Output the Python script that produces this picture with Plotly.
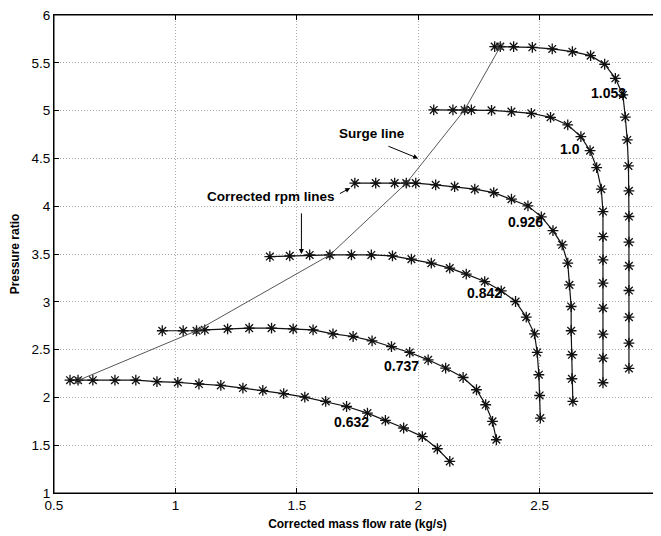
import plotly.graph_objects as go

# rpm line data (corrected mass flow rate kg/s, pressure ratio)
x_0632 = [0.566, 0.599, 0.660, 0.751, 0.837, 0.924, 1.010, 1.097, 1.187, 1.278, 1.360, 1.446, 1.533, 1.619, 1.705, 1.791, 1.865, 1.940, 2.017, 2.079, 2.130]
y_0632 = [2.180, 2.180, 2.180, 2.180, 2.180, 2.165, 2.157, 2.140, 2.125, 2.098, 2.073, 2.040, 2.003, 1.958, 1.905, 1.836, 1.759, 1.680, 1.590, 1.463, 1.330]

x_0737 = [0.946, 1.032, 1.087, 1.121, 1.215, 1.304, 1.396, 1.485, 1.567, 1.649, 1.732, 1.810, 1.890, 1.965, 2.041, 2.113, 2.185, 2.240, 2.278, 2.306, 2.322]
y_0737 = [2.697, 2.697, 2.697, 2.707, 2.717, 2.725, 2.725, 2.717, 2.707, 2.665, 2.637, 2.592, 2.532, 2.470, 2.393, 2.307, 2.208, 2.080, 1.923, 1.749, 1.557]

x_0842 = [1.389, 1.471, 1.553, 1.636, 1.725, 1.807, 1.894, 1.972, 2.054, 2.130, 2.198, 2.274, 2.342, 2.401, 2.445, 2.479, 2.490, 2.497, 2.500, 2.503]
y_0842 = [3.473, 3.480, 3.490, 3.490, 3.490, 3.490, 3.480, 3.446, 3.404, 3.352, 3.290, 3.212, 3.115, 3.003, 2.840, 2.665, 2.470, 2.237, 2.020, 1.784]

x_0926 = [1.739, 1.825, 1.903, 1.951, 1.990, 2.072, 2.150, 2.233, 2.311, 2.384, 2.452, 2.507, 2.555, 2.593, 2.616, 2.623, 2.630, 2.630, 2.633, 2.633, 2.637]
y_0926 = [4.241, 4.241, 4.241, 4.241, 4.241, 4.223, 4.205, 4.178, 4.142, 4.073, 4.003, 3.888, 3.745, 3.596, 3.404, 3.177, 2.951, 2.697, 2.446, 2.195, 1.958]

x_1000 = [2.064, 2.143, 2.191, 2.219, 2.302, 2.384, 2.466, 2.545, 2.616, 2.670, 2.708, 2.735, 2.754, 2.761, 2.761, 2.761, 2.761, 2.761, 2.761, 2.761, 2.761]
y_1000 = [5.007, 5.007, 5.007, 5.007, 5.002, 4.989, 4.972, 4.930, 4.850, 4.728, 4.581, 4.404, 4.178, 3.944, 3.682, 3.439, 3.195, 2.934, 2.662, 2.411, 2.153]

x_1053 = [2.315, 2.338, 2.393, 2.470, 2.552, 2.635, 2.710, 2.768, 2.812, 2.843, 2.853, 2.861, 2.866, 2.868, 2.868, 2.868, 2.868, 2.868, 2.868, 2.868, 2.868]
y_1053 = [5.669, 5.669, 5.669, 5.662, 5.645, 5.616, 5.575, 5.485, 5.338, 5.164, 4.931, 4.693, 4.421, 4.160, 3.892, 3.624, 3.376, 3.118, 2.840, 2.568, 2.303]

# surge line
x_surge = [0.599, 1.087, 1.636, 1.951, 2.191, 2.338]
y_surge = [2.177, 2.697, 3.490, 4.241, 5.007, 5.669]

# speed labels
lab_text = ["0.632", "0.737", "0.842", "0.926", "1.0", "1.053"]
lab_x = [1.726, 1.932, 2.274, 2.442, 2.627, 2.784]
lab_y = [1.74, 2.33, 3.097, 3.84, 4.60, 5.18]

x_ticks = [0.5, 1, 1.5, 2, 2.5, 3]
y_ticks = [1, 1.5, 2, 2.5, 3, 3.5, 4, 4.5, 5, 5.5, 6]

FONT = "Liberation Sans, Arial, sans-serif"

fig = go.Figure()

for xs, ys in [(x_0632, y_0632), (x_0737, y_0737), (x_0842, y_0842),
               (x_0926, y_0926), (x_1000, y_1000), (x_1053, y_1053)]:
    fig.add_trace(go.Scatter(
        x=xs, y=ys, mode="lines+markers",
        line=dict(color="#111111", width=1.2),
        marker=dict(symbol="asterisk-open", size=9,
                    line=dict(color="#000000", width=1.3)),
        showlegend=False, hoverinfo="skip", cliponaxis=False))

fig.add_trace(go.Scatter(
    x=x_surge, y=y_surge, mode="lines+markers",
    line=dict(color="#444444", width=0.9),
    marker=dict(symbol="circle-open", size=6,
                line=dict(color="#444444", width=1)),
    showlegend=False, hoverinfo="skip"))

for t, xv, yv in zip(lab_text, lab_x, lab_y):
    fig.add_annotation(x=xv, y=yv, text="<b>%s</b>" % t, showarrow=False,
                       font=dict(family=FONT, size=14, color="#000"))

# Surge line annotation
fig.add_annotation(x=1.809, y=4.756, text="<b>Surge line</b>", showarrow=False,
                   font=dict(family=FONT, size=13.5, color="#000"))
fig.add_annotation(x=2.0, y=4.50, ax=1.865, ay=4.64, axref="x", ayref="y",
                   text=" ", showarrow=True, arrowhead=2, arrowsize=1,
                   arrowwidth=1, arrowcolor="#000", standoff=0, startstandoff=0)

# Corrected rpm lines annotation
fig.add_annotation(x=1.393, y=4.10, text="<b>Corrected rpm lines</b>", showarrow=False,
                   font=dict(family=FONT, size=13.5, color="#000"))
fig.add_annotation(x=1.519, y=3.50, ax=1.519, ay=4.03, axref="x", ayref="y",
                   text=" ", showarrow=True, arrowhead=2, arrowsize=1,
                   arrowwidth=1, arrowcolor="#000", standoff=0, startstandoff=0)
fig.add_annotation(x=1.72, y=4.19, ax=1.665, ay=4.115, axref="x", ayref="y",
                   text=" ", showarrow=True, arrowhead=2, arrowsize=1,
                   arrowwidth=1, arrowcolor="#000", standoff=0, startstandoff=0)

axis_common = dict(
    showline=True, linecolor="#000", linewidth=1, mirror="ticks",
    ticks="inside", ticklen=5, tickcolor="#000",
    showgrid=True, gridcolor="#aaaaaa", griddash="1px,2px", gridwidth=1,
    zeroline=False, automargin=False, ticklabeloverflow="allow",
    tickfont=dict(family=FONT, size=13.5, color="#000"),
)

fig.update_xaxes(range=[0.5, 3], tickvals=x_ticks,
                 ticktext=[str(v) for v in x_ticks],
                 title=dict(text="<b>Corrected mass flow rate (kg/s)</b>",
                            font=dict(family=FONT, size=12, color="#000"), standoff=7),
                 **axis_common)
fig.update_yaxes(range=[1, 6], tickvals=y_ticks,
                 ticktext=[str(v) if v != int(v) else str(int(v)) for v in y_ticks],
                 title=dict(text="<b>Pressure ratio</b>",
                            font=dict(family=FONT, size=12, color="#000"), standoff=10),
                 **axis_common)

# frame around the plotting area
fig.add_shape(type="rect", xref="paper", yref="paper", x0=0, y0=0, x1=1, y1=1,
              line=dict(color="#000", width=1), layer="above")

# page body has an 8px default margin; compensate so the axes land where the reference has them
fig.update_layout(
    width=653, height=528,
    margin=dict(l=46, r=0, t=7, b=43),
    paper_bgcolor="white", plot_bgcolor="white",
    showlegend=False,
)

fig.write_html("out.html")
